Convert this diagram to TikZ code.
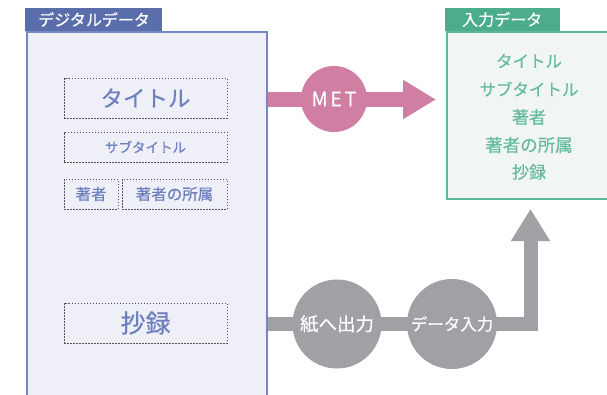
\documentclass[tikz,border=0pt]{standalone}
\usepackage{fontspec}
\setmainfont{Noto Sans CJK JP}[FakeBold=0.5]
\usetikzlibrary{arrows.meta,calc}
\definecolor{bluetab}{HTML}{5A6EAB}
\definecolor{blueline}{HTML}{7586C2}
\definecolor{bluefill}{HTML}{EFF0F7}
\definecolor{bluetext}{HTML}{6F80BE}
\definecolor{greentab}{HTML}{4BAD8E}
\definecolor{greenline}{HTML}{5DB89B}
\definecolor{greenfill}{HTML}{F1F5F3}
\definecolor{greentext}{HTML}{66BC9C}
\definecolor{pinkc}{HTML}{D07FA3}
\definecolor{grayc}{HTML}{A0A1A4}
\definecolor{dashc}{HTML}{555555}
\tikzset{
  dbox/.style={draw=dashc, dashed, dash pattern=on 1.5pt off 1.5pt, line width=0.8pt, inner sep=0pt, text=bluetext},
  tabbox/.style={inner sep=0pt, text=white, font=\fontsize{16}{16}\selectfont},
  circ/.style={circle, inner sep=0pt, text=white},
  rtext/.style={text=greentext, font=\fontsize{17}{17}\selectfont, inner sep=0pt}
}
\begin{document}
\begin{tikzpicture}[x=1pt,y=-1pt]
\useasboundingbox (0,0) rectangle (607,394);
\clip (0,0) rectangle (607,394);
% left box
\node[draw=blueline, fill=bluefill, line width=1.5pt, minimum width=240pt, minimum height=380pt, anchor=north west, inner sep=0pt] (leftbox) at (26,31) {};
\node[fill=bluetab, minimum width=137pt, minimum height=23pt, anchor=south west, inner sep=0pt] (lefttab) at (25.25,31) {};
\node[tabbox, anchor=west] (lefttabt) at (38,19.5) {デジタルデータ};
% dashed boxes
\node[dbox, minimum width=163pt, minimum height=40pt, font=\fontsize{22.5}{22.5}\selectfont] (title) at (145.5,98) {タイトル};
\node[dbox, minimum width=163pt, minimum height=30pt, font=\fontsize{13.5}{13.5}\selectfont] (sub) at (145.5,147) {サブタイトル};
\node[dbox, minimum width=54pt, minimum height=30pt, font=\fontsize{15.5}{15.5}\selectfont] (auth) at (91,194) {著者};
\node[dbox, minimum width=105pt, minimum height=30pt, font=\fontsize{15.5}{15.5}\selectfont] (aff) at (174.5,194) {著者の所属};
\node[dbox, minimum width=163pt, minimum height=40pt, font=\fontsize{25}{25}\selectfont] (abs) at (145.5,323) {抄録};
% right box
\node[draw=greenline, fill=greenfill, line width=1.5pt, minimum width=200pt, minimum height=167pt, anchor=north west, inner sep=0pt] (rightbox) at (446,31) {};
\node[fill=greentab, minimum width=115pt, minimum height=23pt, anchor=south west, inner sep=0pt] (righttab) at (445.25,31) {};
\node[tabbox, anchor=west] (righttabt) at (462,19.5) {入力データ};
\node[rtext, font=\fontsize{16.5}{16.5}\selectfont] (r1) at (529,61) {タイトル};
\node[rtext, font=\fontsize{16.5}{16.5}\selectfont] (r2) at (529,89) {サブタイトル};
\node[rtext] (r3) at (529,117) {著者};
\node[rtext, font=\fontsize{17.5}{17.5}\selectfont] (r4) at (529,145) {著者の所属};
\node[rtext] (r5) at (529,172) {抄録};
% MET arrow
\coordinate (metS) at (leftbox.east |- 0,99.5);
\coordinate (metE) at (436,99.5);
\draw[pinkc, line width=15pt, -{Triangle[length=33pt,width=37pt]}] (metS) -- (metE);
\node[circ, fill=pinkc, minimum size=66pt, font=\fontsize{20}{20}\selectfont] (met) at (334,99) {M\kern2.5pt E\kern2.5pt T};
% gray path
\coordinate (grS) at (leftbox.east |- 0,324);
\coordinate (grE) at (530.5,209);
\draw[grayc, line width=14pt, miter limit=10, -{Triangle[length=32pt,width=37pt]}] (grS) -| (grE);
\node[circ, fill=grayc, minimum size=89pt, font=\fontsize{18.5}{18.5}\selectfont] (paper) at (337,324) {紙へ出力};
\node[circ, fill=grayc, minimum size=90pt, font=\fontsize{16.5}{16.5}\selectfont] (input) at (452,324) {データ入力};
\end{tikzpicture}
\end{document}
